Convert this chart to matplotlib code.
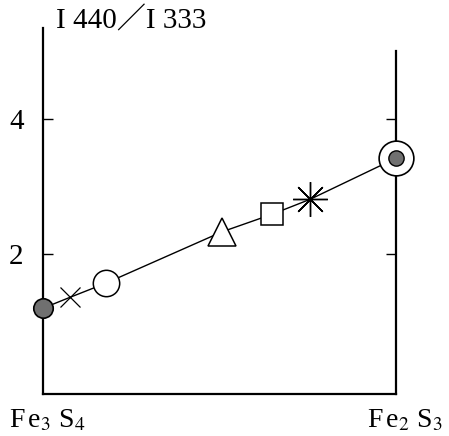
import matplotlib.pyplot as plt

plt.rcParams['mathtext.fontset'] = 'stix'
plt.rcParams['font.family'] = ['Liberation Serif', 'Noto Sans CJK JP']

# composition position between Fe3S4 (0) and Fe2S3 (1), and intensity ratio
comp = [0.0, 0.076, 0.178, 0.507, 0.649, 0.756, 1.0]
ratio = [1.20, 1.36, 1.57, 2.33, 2.59, 2.81, 3.42]
yticks = [2, 4]
end_labels = [r'F$\,$e$_{3}$ S$_{4}$', r'F$\,$e$_{2}$ S$_{3}$']

fig = plt.figure(figsize=(4.49, 4.36), dpi=100)
ax = fig.add_axes([0.0958, 0.0963, 0.7862, 0.84])

# the trend line first, markers on top
ax.plot(comp, ratio, color='black', lw=1.0, zorder=1)

# Fe3S4 end member
ax.plot(comp[0], ratio[0], 'o', ms=14, mfc='#707070', mec='black', mew=1.2, zorder=3, clip_on=False)
# intermediate samples
ax.plot(comp[1], ratio[1], 'x', ms=14, mec='black', mew=0.9, zorder=3)
ax.plot(comp[2], ratio[2], 'o', ms=19, mfc='white', mec='black', mew=1.1, zorder=3)
ax.plot(comp[3], ratio[3], '^', ms=20, mfc='white', mec='black', mew=1.1, zorder=3)
ax.plot(comp[4], ratio[4], 's', ms=16, mfc='white', mec='black', mew=1.1, zorder=3)
ax.plot(comp[5], ratio[5], marker=(8, 2, 0), ms=25, mec='black', mew=1.0, ls='none', zorder=3)
# Fe2S3 end member: ring round a filled dot
ax.plot(comp[6], ratio[6], 'o', ms=25, mfc='white', mec='black', mew=1.2, zorder=3, clip_on=False)
ax.plot(comp[6], ratio[6], 'o', ms=11, mfc='#707070', mec='black', mew=1.0, zorder=4, clip_on=False)

ax.set_xlim(0, 1)
ax.set_ylim(-0.07, 5.35)

for s in ['left', 'right', 'bottom']:
    ax.spines[s].set_linewidth(1.6)
ax.spines['top'].set_visible(False)
ax.spines['right'].set_bounds(-0.07, 5.0)

ax.set_xticks([])
ax.set_yticks(yticks)
ax.set_yticklabels([str(t) for t in yticks], fontsize=21)
ax.tick_params(axis='y', direction='in', length=7, width=1.0, pad=14,
               left=True, right=True)

fig.text(0.125, 0.953, 'I 440／I 333', fontsize=21, va='center', ha='left')
fig.text(0.105, 0.035, end_labels[0], fontsize=20, ha='center', va='center')
fig.text(0.902, 0.035, end_labels[1], fontsize=20, ha='center', va='center')

fig.savefig('out.png', dpi=100)
